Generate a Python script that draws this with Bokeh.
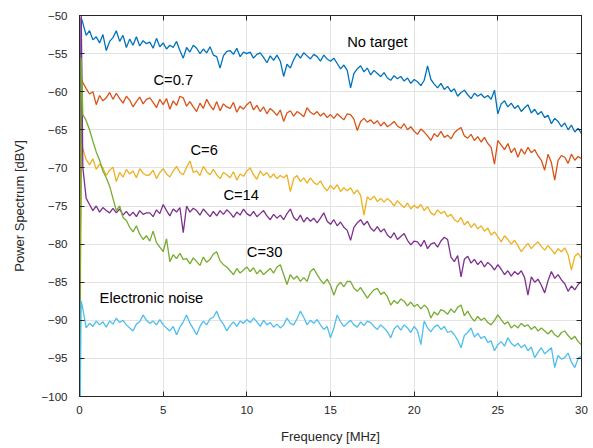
import numpy as np
from bokeh.plotting import figure
from bokeh.models import Range1d, LinearAxis, FixedTicker, ColumnDataSource
from bokeh.core.properties import value
from bokeh.embed import file_html
from bokeh.resources import INLINE

# Frequency grid [MHz]: DC bin, first bin, then 0.2 MHz steps
freq = [0.0, 0.1] + [round(0.2 * i, 1) for i in range(1, 151)]

no_target = [-110.0, -50.3,
    -51.0, -52.6, -52.0, -53.2, -52.8, -53.6, -52.5, -54.6, -53.4, -52.9,
    -52.0, -53.4, -52.6, -54.2, -53.1, -53.9, -52.8, -54.0, -53.3, -53.7,
    -53.5, -54.3, -53.0, -54.1, -53.6, -54.4, -53.9, -54.2, -53.4, -54.6,
    -55.6, -54.2, -54.8, -53.9, -54.3, -55.0, -54.4, -54.9, -54.1, -55.2,
    -55.4, -56.9, -55.3, -54.7, -54.6, -55.1, -54.3, -55.4, -54.8, -55.0,
    -54.8, -55.6, -55.1, -54.9, -55.5, -56.2, -55.3, -55.9, -55.2, -56.0,
    -58.0, -56.4, -56.9, -55.8, -55.0, -55.6, -54.9, -55.3, -55.7, -55.1,
    -55.4, -56.0, -55.2, -55.7, -56.0, -55.6, -56.3, -57.0, -56.5, -57.2,
    -59.5, -57.6, -57.0, -56.6, -57.4, -56.9, -57.8, -57.2, -57.6, -58.0,
    -57.5, -58.2, -58.5, -57.9, -58.3, -58.0, -58.6, -58.2, -58.9, -58.4,
    -58.7, -59.2, -58.5, -56.6, -58.4, -59.0, -59.5, -58.9, -59.7, -59.3,
    -60.0, -59.6, -60.6, -60.1, -59.8, -60.4, -60.9, -60.2, -60.6, -60.3,
    -60.8, -60.5, -61.0, -59.8, -62.9, -61.6, -61.2, -62.0, -61.5, -62.2,
    -61.8, -62.6, -62.1, -61.7, -62.8, -62.3, -63.0, -62.6, -63.4, -63.1,
    -64.2, -63.5, -63.9, -64.6, -64.1, -65.0, -64.4, -65.3, -64.8, -65.5]

c_0_7 = [-110.0, -58.2,
    -58.8, -59.6, -60.3, -60.0, -61.7, -60.5, -61.2, -60.8, -60.1, -61.0,
    -60.2, -60.9, -61.5, -60.6, -61.1, -62.0, -61.3, -60.7, -61.6, -61.0,
    -60.8, -61.4, -62.1, -61.0, -61.7, -60.9, -62.3, -61.2, -61.8, -60.6,
    -60.8, -61.9, -61.3, -62.0, -62.6, -61.5, -62.2, -61.0, -61.8, -62.4,
    -61.3, -62.5, -61.6, -62.0, -62.2, -61.4, -62.7, -61.9, -62.3, -61.7,
    -61.3, -62.4, -61.8, -62.6, -62.0, -62.9, -62.2, -62.6, -63.1, -62.4,
    -63.9, -62.8, -62.5, -63.2, -62.6, -62.9, -63.3, -62.1, -62.7, -63.0,
    -62.6, -63.2, -62.8, -63.4, -63.0, -63.5, -62.9, -63.3, -63.7, -62.9,
    -63.0, -63.6, -65.1, -63.9, -63.5, -64.0, -63.7, -64.2, -63.8, -64.5,
    -64.0, -64.6, -64.3, -63.9, -64.5, -64.8, -64.2, -65.0, -64.6, -65.2,
    -65.6, -64.9, -65.3, -65.8, -66.4, -65.5, -65.9, -65.2, -66.0, -65.7,
    -66.2, -65.4, -65.0, -64.7, -65.8, -66.1, -65.6, -66.4, -65.9, -66.6,
    -66.0, -66.8, -67.3, -69.5, -66.4, -67.0, -67.6, -66.8, -68.0, -67.4,
    -68.6, -67.5, -68.2, -67.3, -68.0, -67.6, -68.4, -69.0, -70.3, -68.2,
    -69.3, -71.6, -69.0, -68.4, -68.6, -69.4, -68.2, -69.0, -68.5, -68.8]

c_6 = [-110.0, -66.9,
    -67.5, -68.9, -69.6, -68.8, -70.2, -69.5, -70.0, -71.0, -70.3, -69.9,
    -71.8, -70.6, -71.2, -70.2, -70.8, -70.4, -71.3, -70.1, -70.7, -71.0,
    -70.9, -70.3, -71.4, -70.6, -70.1, -70.8, -71.2, -70.4, -69.8, -70.6,
    -70.9, -69.9, -69.1, -70.6, -70.4, -71.0, -69.8, -70.5, -70.9, -70.2,
    -70.9, -71.4, -70.6, -70.9, -71.3, -70.5, -71.6, -70.8, -71.1, -70.4,
    -70.0, -70.9, -71.5, -70.4, -71.0, -70.6, -71.3, -70.8, -71.4, -71.0,
    -71.3, -70.9, -73.1, -71.4, -71.0, -71.8, -71.3, -72.0, -71.3, -71.9,
    -72.2, -71.7, -72.5, -73.0, -72.3, -72.8, -72.2, -73.1, -72.6, -73.0,
    -72.6, -73.4, -72.9, -73.6, -76.2, -73.8, -74.2, -73.7, -74.4, -74.0,
    -74.5, -74.0, -74.4, -75.0, -74.3, -74.8, -75.2, -74.6, -75.4, -74.9,
    -75.3, -74.8, -75.6, -75.1, -75.9, -76.2, -75.5, -76.0, -75.7, -76.4,
    -76.1, -76.8, -77.1, -76.5, -77.5, -77.0, -77.8, -77.3, -78.0, -77.6,
    -78.3, -77.9, -78.8, -78.4, -79.0, -79.7, -78.9, -79.4, -80.0, -79.5,
    -80.2, -81.0, -80.4, -79.9, -80.6, -80.1, -79.7, -80.3, -80.8, -80.2,
    -80.7, -81.3, -80.6, -81.0, -80.5, -81.4, -83.4, -81.6, -81.2, -81.9]

c_14 = [-110.0, -49.0,
    -70.0, -74.0, -74.8, -75.6, -75.0, -75.8, -75.2, -75.6, -75.9, -75.3,
    -75.9, -75.4, -76.2, -75.7, -76.3, -75.8, -76.4, -75.6, -76.1, -75.9,
    -75.9, -76.4, -75.5, -76.0, -74.8, -75.6, -76.3, -75.4, -75.8, -75.2,
    -78.5, -75.0, -75.8, -75.3, -75.6, -76.2, -75.4, -75.9, -76.4, -75.7,
    -76.3, -75.6, -76.1, -75.5, -75.9, -76.5, -75.8, -76.2, -75.4, -76.0,
    -76.3, -75.7, -76.4, -76.0, -75.6, -76.3, -76.8, -76.1, -76.6, -76.2,
    -76.8, -76.0, -75.4, -76.5, -76.9, -76.2, -77.1, -76.5, -77.0, -76.6,
    -77.2, -76.6, -75.9, -77.0, -77.4, -76.8, -77.6, -77.1, -77.8, -78.2,
    -79.5, -77.8, -77.2, -76.8, -77.5, -77.0, -77.9, -78.3, -77.7, -78.4,
    -78.0, -78.8, -79.2, -78.5, -79.4, -79.0, -78.6, -79.5, -80.1, -79.6,
    -79.7, -80.3, -79.5, -80.6, -80.0, -79.8, -80.4, -79.6, -79.1, -79.4,
    -81.7, -82.3, -81.5, -84.3, -82.0, -81.6, -82.5, -82.0, -82.7, -82.2,
    -83.0, -82.4, -82.8, -83.4, -82.7, -83.3, -84.0, -83.5, -84.2, -83.6,
    -84.0, -83.5, -84.4, -86.7, -84.3, -85.0, -84.6, -85.4, -86.4, -84.8,
    -83.6, -84.5, -84.0, -84.7, -85.2, -86.2, -85.5, -86.0, -85.3, -84.9]

c_30 = [-110.0, -55.5,
    -63.0, -63.8, -65.0, -66.5, -67.9, -69.0, -70.4, -71.3, -72.4, -74.0,
    -75.6, -75.0, -76.5, -76.9, -77.8, -78.4, -77.6, -78.7, -79.4, -78.9,
    -79.6, -78.3, -79.8, -80.4, -81.0, -79.3, -82.3, -81.4, -81.9, -81.2,
    -82.0, -81.9, -82.6, -81.8, -82.3, -82.8, -81.7, -82.4, -82.0, -81.3,
    -81.0, -82.2, -82.7, -83.0, -83.5, -84.0, -83.2, -83.8, -83.4, -83.0,
    -83.6, -83.1, -83.9, -83.4, -84.0, -83.6, -83.2, -83.8, -83.0, -82.7,
    -84.0, -85.3, -84.0, -84.6, -84.2, -84.9, -84.4, -84.9, -83.6, -83.2,
    -84.0, -84.7, -85.2, -84.6, -85.4, -86.7, -85.5, -85.0, -85.6, -84.9,
    -84.9, -85.8, -86.2, -85.7, -86.4, -87.1, -86.5, -86.0, -85.8, -86.6,
    -86.3, -86.9, -88.0, -87.4, -87.8, -87.2, -87.5, -88.1, -87.6, -88.2,
    -87.9, -88.5, -88.0, -88.4, -89.7, -88.9, -89.3, -88.6, -88.8, -89.2,
    -88.5, -89.0, -88.3, -88.0, -89.4, -88.8, -89.6, -90.1, -89.5, -90.0,
    -89.7, -90.3, -90.6, -90.0, -89.3, -89.9, -90.5, -90.2, -91.0, -90.6,
    -91.0, -90.4, -90.8, -90.6, -91.2, -90.8, -91.4, -91.0, -91.4, -91.8,
    -91.3, -91.9, -92.2, -91.6, -91.4, -92.0, -92.5, -92.1, -92.8, -93.2]

electronic_noise = [-110.0, -87.5,
    -88.5, -91.0, -90.4, -90.8, -90.1, -90.6, -90.2, -90.9, -90.1, -90.5,
    -89.7, -90.3, -90.0, -90.6, -91.0, -91.4, -90.5, -90.2, -89.3, -90.0,
    -90.4, -90.1, -90.6, -89.9, -90.6, -91.0, -91.4, -90.8, -91.9, -90.9,
    -90.2, -89.3, -90.4, -91.1, -91.9, -90.8, -90.1, -90.6, -89.8, -89.6,
    -88.8, -89.9, -90.5, -91.4, -90.7, -90.2, -90.8, -90.1, -90.4, -89.9,
    -90.3, -89.7, -90.2, -90.8, -90.0, -90.6, -90.3, -90.9, -90.5, -91.0,
    -90.6, -89.7, -90.4, -90.6, -89.8, -88.8, -89.6, -90.6, -90.0, -90.4,
    -89.9, -90.6, -91.2, -90.8, -92.3, -91.0, -89.3, -90.2, -90.8, -90.4,
    -90.0, -90.6, -90.9, -90.2, -90.7, -90.1, -90.3, -90.8, -91.2, -90.6,
    -91.0, -91.5, -92.3, -91.1, -90.7, -91.3, -90.6, -91.0, -91.6, -90.8,
    -91.4, -93.2, -90.1, -91.0, -91.5, -90.9, -90.6, -91.2, -90.8, -91.6,
    -91.4, -91.9, -92.6, -93.6, -92.0, -91.6, -91.0, -92.2, -91.7, -92.4,
    -92.1, -92.9, -92.7, -94.0, -93.2, -92.8, -93.4, -92.3, -93.0, -93.4,
    -93.0, -93.6, -93.2, -94.0, -93.5, -94.9, -94.2, -93.6, -94.4, -94.0,
    -93.6, -96.2, -94.6, -95.1, -94.9, -94.3, -95.5, -96.2, -95.0, -94.7]

series = [no_target, c_0_7, c_6, c_14, c_30, electronic_noise]
colors = ["#0072BD", "#D95319", "#EDB120", "#7E2F8E", "#77AC30", "#4DBEEE"]

label_texts = ["No target", "C=0.7", "C=6", "C=14", "C=30", "Electronic noise"]
label_x = [16.0, 4.42, 6.63, 8.6, 10.0, 1.2]
label_y = [-53.5, -58.5, -67.6, -73.6, -81.1, -87.05]

x_ticks = [0, 5, 10, 15, 20, 25, 30]
y_ticks = [-100, -95, -90, -85, -80, -75, -70, -65, -60, -55, -50]

AX = "#262626"
FONT = "Liberation Sans"

p = figure(width=593, height=448, output_backend="svg", toolbar_location=None,
           x_range=Range1d(0, 30), y_range=Range1d(-100, -50),
           min_border_left=79, min_border_right=12, min_border_top=15,
           min_border_bottom=52)
p.background_fill_color = "white"
p.border_fill_color = "white"
p.outline_line_color = AX
p.outline_line_width = 1

for ys, c in zip(series, colors):
    p.line(freq, ys, line_color=c, line_width=1.3)

src = ColumnDataSource(dict(x=label_x, y=label_y, t=label_texts))
p.text(x="x", y="y", text="t", source=src, text_font=value(FONT),
       text_font_size="14.7px", text_color="#000000",
       text_align="left", text_baseline="middle")

p.xaxis.ticker = FixedTicker(ticks=x_ticks)
p.yaxis.ticker = FixedTicker(ticks=y_ticks)
p.xgrid.ticker = FixedTicker(ticks=x_ticks)
p.ygrid.ticker = FixedTicker(ticks=y_ticks)
p.grid.grid_line_color = "#e3e3e3"
p.grid.grid_line_width = 1

for ax in [p.xaxis[0], p.yaxis[0]]:
    ax.axis_line_color = AX
    ax.major_tick_line_color = AX
    ax.major_tick_in = 5
    ax.major_tick_out = 0
    ax.minor_tick_line_color = None
    ax.major_label_text_font = FONT
    ax.major_label_text_font_size = "11.5px"
    ax.major_label_text_color = AX
    ax.axis_label_text_font = FONT
    ax.axis_label_text_font_size = "13px"
    ax.axis_label_text_font_style = "normal"
    ax.axis_label_text_color = AX

p.xaxis.axis_label = "Frequency [MHz]"
p.yaxis.axis_label = "Power Spectrum [dBV]"
p.xaxis.major_label_standoff = 9
p.xaxis.axis_label_standoff = 12
p.yaxis.major_label_standoff = 12
p.yaxis.axis_label_standoff = 12

top = LinearAxis(ticker=FixedTicker(ticks=x_ticks),
                 major_label_overrides={t: "" for t in x_ticks},
                 major_label_text_color=None,
                 major_tick_in=5, major_tick_out=0, minor_tick_line_color=None,
                 axis_line_color=AX, major_tick_line_color=AX, major_label_standoff=0)
right = LinearAxis(ticker=FixedTicker(ticks=y_ticks),
                   major_label_overrides={t: "" for t in y_ticks},
                   major_label_text_color=None,
                   major_tick_in=5, major_tick_out=0, minor_tick_line_color=None,
                   axis_line_color=AX, major_tick_line_color=AX, major_label_standoff=0)
p.add_layout(top, "above")
p.add_layout(right, "right")

open("out.html", "w").write(file_html(p, INLINE))
